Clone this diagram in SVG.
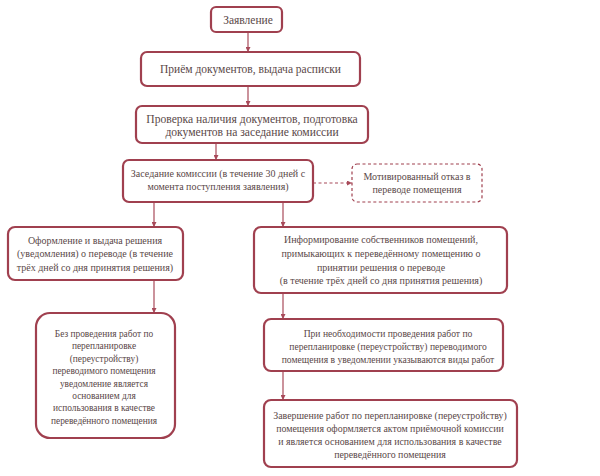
<svg xmlns="http://www.w3.org/2000/svg" width="600" height="476" viewBox="0 0 600 476">
<defs>
<marker id="ah" viewBox="0 0 10 10" refX="10" refY="5" markerWidth="5" markerHeight="5" orient="auto" markerUnits="userSpaceOnUse"><path d="M0,0 L10,5 L0,10 z" fill="#a84a5a"/></marker>
</defs>
<style>
.box{fill:#ffffff;stroke:#a0404f;stroke-width:2.2}
.dash{fill:#ffffff;stroke:#a0404f;stroke-width:1.2;stroke-dasharray:3,2.5}
.t{fill:#5a4848;text-anchor:middle}
.c{stroke:#a84a5a;stroke-width:1.2;fill:none}
</style>
<rect width="600" height="476" fill="#ffffff"/>
<g id="connectors">
<line class="c" x1="248" y1="32" x2="248" y2="52" marker-end="url(#ah)"/>
<line class="c" x1="248" y1="86" x2="248" y2="106" marker-end="url(#ah)"/>
<line class="c" x1="216" y1="143" x2="216" y2="160" marker-end="url(#ah)"/>
<line class="c" x1="313" y1="183" x2="352" y2="183" stroke-dasharray="3,2.5" marker-end="url(#ah)"/>
<line class="c" x1="154" y1="202" x2="154" y2="227" marker-end="url(#ah)"/>
<line class="c" x1="283" y1="202" x2="283" y2="227" marker-end="url(#ah)"/>
<line class="c" x1="154" y1="280" x2="154" y2="313" marker-end="url(#ah)"/>
<line class="c" x1="283" y1="293" x2="283" y2="319" marker-end="url(#ah)"/>
<line class="c" x1="283" y1="371" x2="283" y2="400" marker-end="url(#ah)"/>
</g>
<g font-family="Liberation Serif, serif">
<g id="n1" font-size="11.5">
<rect class="box" x="211" y="7" width="71" height="25" rx="5"/>
<text class="t" x="248" y="23.5">Заявление</text>
</g>
<g id="n2" font-size="11.5">
<rect class="box" x="141" y="52" width="219" height="34" rx="6"/>
<text class="t" x="250.5" y="73">Приём документов, выдача расписки</text>
</g>
<g id="n3" font-size="11.6">
<rect class="box" x="136" y="106" width="232" height="37" rx="6"/>
<text class="t" x="252" y="123">Проверка наличия документов, подготовка</text>
<text class="t" x="252" y="136">документов на заседание комиссии</text>
</g>
<g id="n4" font-size="10">
<rect class="box" x="123" y="160" width="190" height="42" rx="6"/>
<text class="t" x="218" y="177">Заседание комиссии (в течение 30 дней с</text>
<text class="t" x="218" y="190">момента поступления заявления)</text>
</g>
<g id="n5" font-size="10">
<rect class="dash" x="352" y="164" width="130" height="38" rx="5"/>
<text class="t" x="417" y="180">Мотивированный отказ в</text>
<text class="t" x="417" y="193">переводе помещения</text>
</g>
<g id="n6" font-size="10">
<rect class="box" x="8" y="227" width="175" height="53" rx="7"/>
<text class="t" x="95" y="244">Оформление и выдача решения</text>
<text class="t" x="95" y="257">(уведомления) о переводе  (в течение</text>
<text class="t" x="95" y="271">трёх дней со дня принятия решения)</text>
</g>
<g id="n7" font-size="10">
<rect class="box" x="254" y="227" width="253" height="66" rx="7"/>
<text class="t" x="381" y="243">Информирование собственников помещений,</text>
<text class="t" x="381" y="257">примыкающих к переведённому помещению о</text>
<text class="t" x="381" y="271">принятии решения о переводе</text>
<text class="t" x="381" y="284">(в течение трёх дней со дня принятия решения)</text>
</g>
<g id="n8" font-size="9.4">
<rect class="box" x="36" y="313" width="139" height="125" rx="14"/>
<text class="t" x="104" y="337">Без проведения работ по</text>
<text class="t" x="104" y="349.4">перепланировке</text>
<text class="t" x="104" y="361.8">(переустройству)</text>
<text class="t" x="104" y="374.2">переводимого помещения</text>
<text class="t" x="104" y="386.6">уведомление является</text>
<text class="t" x="104" y="399">основанием для</text>
<text class="t" x="104" y="411.4">использования в качестве</text>
<text class="t" x="104" y="423.8">переведённого помещения</text>
</g>
<g id="n9" font-size="9.6">
<rect class="box" x="264" y="319" width="239" height="52" rx="7"/>
<text class="t" x="388" y="337">При необходимости  проведения работ по</text>
<text class="t" x="388" y="350">перепланировке (переустройству) переводимого</text>
<text class="t" x="388" y="363">помещения в  уведомлении указываются виды работ</text>
</g>
<g id="n10" font-size="9.9">
<rect class="box" x="264" y="400" width="253" height="67" rx="7"/>
<text class="t" x="390" y="419">Завершение работ по перепланировке (переустройству)</text>
<text class="t" x="390" y="432">помещения оформляется актом приёмочной комиссии</text>
<text class="t" x="390" y="445">и является основанием для использования в качестве</text>
<text class="t" x="390" y="458">переведённого помещения</text>
</g>
</g>
</svg>
